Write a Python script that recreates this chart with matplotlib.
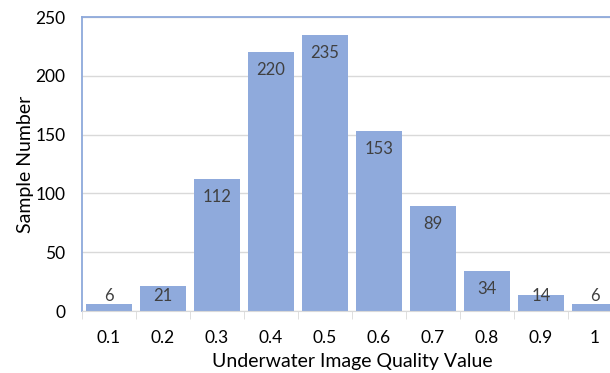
import numpy as np
import matplotlib
matplotlib.use("Agg")
import matplotlib.pyplot as plt

# données
categories = ["0.1", "0.2", "0.3", "0.4", "0.5", "0.6", "0.7", "0.8", "0.9", "1"]
counts = [6, 21, 112, 220, 235, 153, 89, 34, 14, 6]

plt.rcParams['font.family'] = ['Lato', 'DejaVu Sans']

fig = plt.figure(figsize=(6.1, 3.73), dpi=100)
# l'axe dépasse à droite, comme dans l'image d'origine (rognée)
ax = fig.add_axes([82 / 610, 1 - 311 / 373, 540 / 610, 294 / 373])

x = np.arange(len(categories))
ax.bar(x, counts, width=0.86, color='#8FAADC', zorder=3)

# étiquettes de valeur à l'intérieur, en haut de chaque barre
for xi, v in zip(x, counts):
    y = max(v - 15.3, 12.5)
    ax.text(xi, y, str(v), ha='center', va='center', fontsize=12,
            color='#404040', zorder=4)

ax.set_xlim(-0.5, len(categories) - 0.5)
ax.set_ylim(0, 250)
ax.set_yticks([0, 50, 100, 150, 200, 250])
ax.set_xticks(x)
ax.set_xticklabels(categories)
ax.set_xticks(np.arange(-0.5, len(categories), 1), minor=True)

ax.tick_params(axis='x', which='major', length=0, pad=14, labelsize=12.5, colors='#000000')
ax.tick_params(axis='x', which='minor', length=6, color='#D9D9D9', direction='out')
ax.tick_params(axis='y', length=0, pad=12, labelsize=12.5)

ax.yaxis.grid(True, color='#D9D9D9', linewidth=1, zorder=0)
for s in ['left', 'top']:
    ax.spines[s].set_color('#8EA9DB')
    ax.spines[s].set_linewidth(1.3)
ax.spines['right'].set_visible(False)
ax.spines['bottom'].set_color('#D9D9D9')
ax.spines['bottom'].set_zorder(5)

ax.set_xlabel("Underwater Image Quality Value", fontsize=14)
ax.set_ylabel("Sample Number", fontsize=14)
ax.xaxis.set_label_coords(0.5, -51 / 294, transform=ax.transAxes)
ax.yaxis.set_label_coords(-57 / 540, 0.5, transform=ax.transAxes)
ax.xaxis.label.set_va('center')
ax.yaxis.label.set_va('center')

fig.savefig("out.png", dpi=100)
